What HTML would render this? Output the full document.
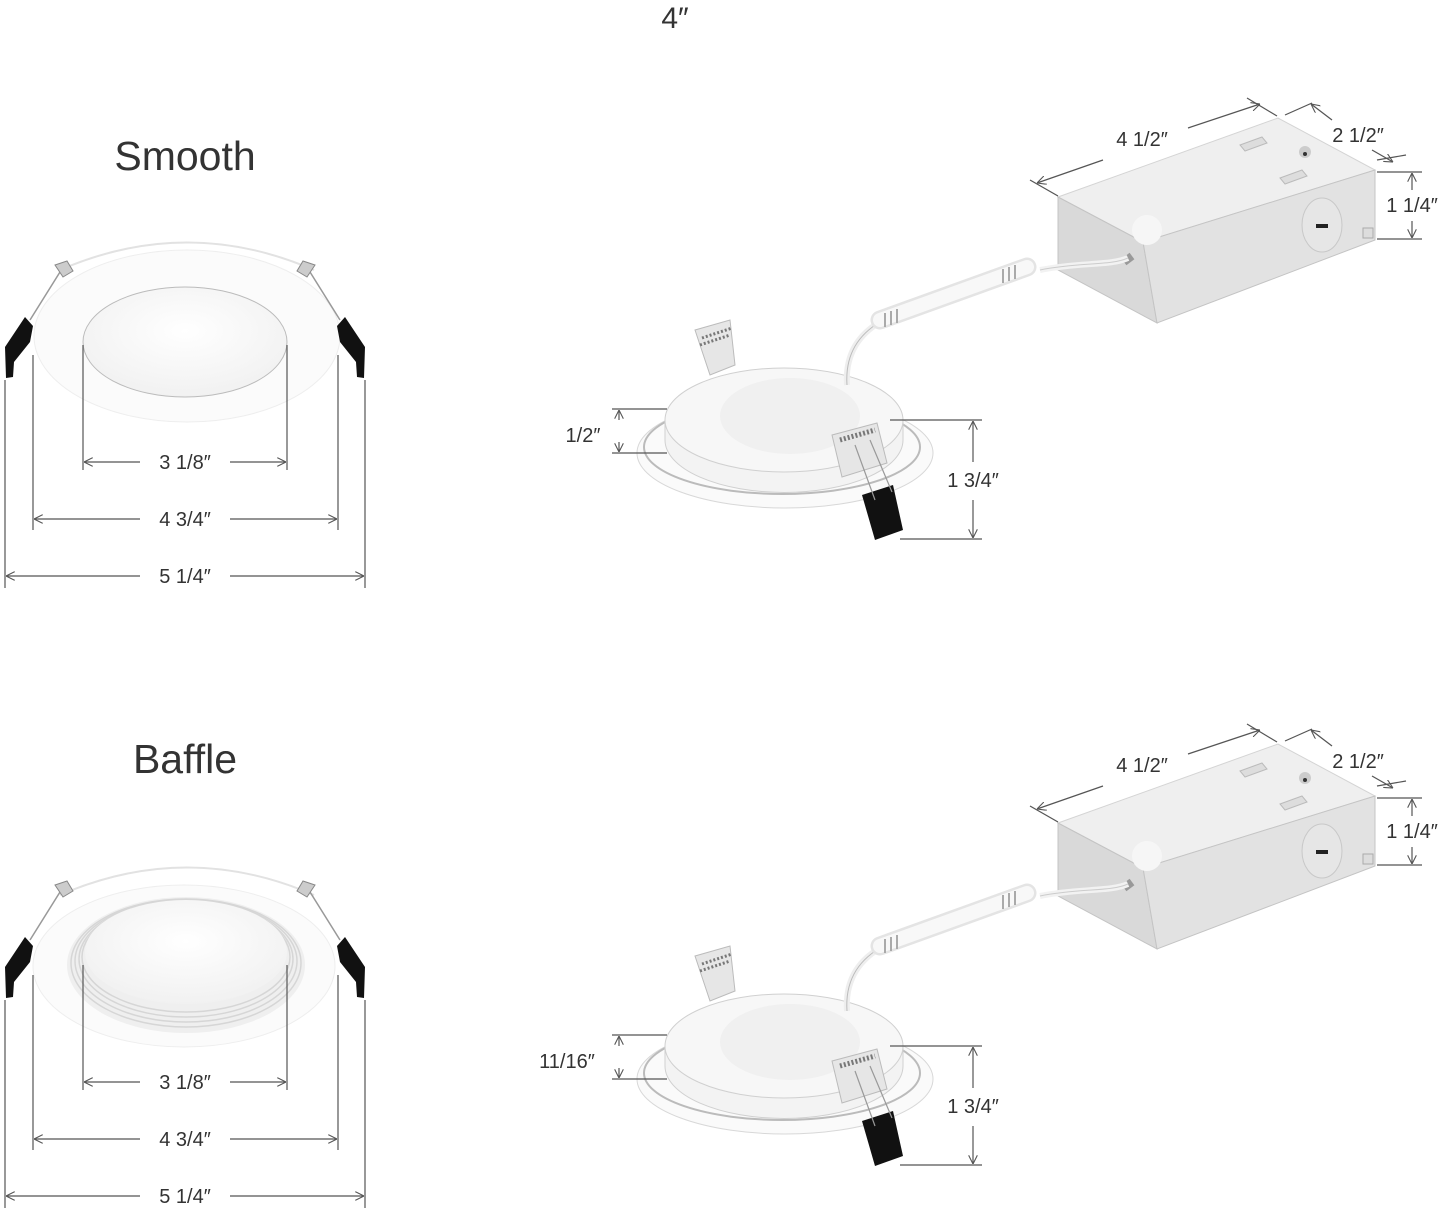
<!DOCTYPE html>
<html><head><meta charset="utf-8"><style>
html,body{margin:0;padding:0;background:#fff;}
svg{display:block;}
text{font-family:"Liberation Sans",sans-serif;fill:#333;}
.d{font-size:20px;text-anchor:middle;}
</style></head><body>
<svg width="1445" height="1208" viewBox="0 0 1445 1208" xmlns="http://www.w3.org/2000/svg">
<defs>
<marker id="a" viewBox="0 0 10 10" refX="10" refY="5" markerWidth="9" markerHeight="9" orient="auto-start-reverse" markerUnits="userSpaceOnUse"><path d="M0,0 L10,5 L0,10" fill="none" stroke="#555" stroke-width="1.2"/></marker>
<radialGradient id="lens" cx="50%" cy="40%" r="60%"><stop offset="0" stop-color="#fff"/><stop offset="1" stop-color="#f1f1f1"/></radialGradient>
<g id="clipL">
<path d="M25,317 L33,326 L30,342 L14,362 L13,377 L6,378 L5,347 Z" fill="#111"/>
<path d="M30,320 L60,272" stroke="#999" stroke-width="1.5"/>
<path d="M55,265 l12,-4 l6,10 l-10,6 z" fill="#ccc" stroke="#888"/>
</g>
<g id="box">
<path d="M1058,197 L1278,118 L1375,170 L1143,242 Z" fill="#efefef" stroke="#d4d4d4"/>
<path d="M1058,197 L1143,242 L1157,323 L1058,270 Z" fill="#d9d9d9" stroke="#c4c4c4"/>
<path d="M1143,242 L1375,170 L1375,240 L1157,323 Z" fill="#e2e2e2" stroke="#c4c4c4"/>
<path d="M1240,145 l22,-8 l5,6 l-22,8 z M1280,178 l22,-8 l5,6 l-22,8 z" fill="#ddd" stroke="#bbb"/>
<circle cx="1305" cy="152" r="6" fill="#ccc"/><circle cx="1305" cy="154" r="2" fill="#333"/>
<ellipse cx="1322" cy="225" rx="20" ry="27" fill="#e6e6e6" stroke="#c8c8c8"/>
<rect x="1316" y="224" width="12" height="4" fill="#222"/>
<circle cx="1147" cy="230" r="15" fill="#f6f6f6"/>
<rect x="1363" y="228" width="10" height="10" fill="#ddd" stroke="#aaa"/>
<path d="M1124,262 L1132,256" stroke="#999" stroke-width="8"/>
<path d="M1040,270 C1080,262 1110,266 1128,258" stroke="#f2f2f2" stroke-width="6" fill="none"/>
<path d="M1040,270 C1080,262 1110,266 1128,258" stroke="#ccc" stroke-width="1" fill="none"/>
<g stroke="#555" stroke-width="1.2" fill="none">
<line x1="1030" y1="180" x2="1058" y2="196"/><line x1="1247" y1="98" x2="1277" y2="116"/>
<line x1="1103" y1="160" x2="1037" y2="183" marker-end="url(#a)"/>
<line x1="1188" y1="128" x2="1260" y2="104" marker-end="url(#a)"/>
<line x1="1285" y1="115" x2="1312" y2="103"/>
<line x1="1332" y1="120" x2="1311" y2="104" marker-end="url(#a)"/>
<line x1="1372" y1="150" x2="1393" y2="162" marker-end="url(#a)"/>
<line x1="1377" y1="160" x2="1406" y2="155"/>
<line x1="1377" y1="172" x2="1422" y2="172"/><line x1="1377" y1="239" x2="1422" y2="239"/>
<line x1="1412" y1="190" x2="1412" y2="173" marker-end="url(#a)"/>
<line x1="1412" y1="221" x2="1412" y2="238" marker-end="url(#a)"/>
</g>
<text class="d" x="1142" y="146">4 1/2″</text>
<text class="d" x="1358" y="142">2 1/2″</text>
<text class="d" x="1412" y="212">1 1/4″</text>
</g>
<g id="fixR">
<ellipse cx="785" cy="453" rx="148" ry="55" fill="#fafafa" stroke="#d8d8d8"/>
<ellipse cx="782" cy="447" rx="138" ry="47" fill="none" stroke="#bbb" stroke-width="2"/>
<path d="M665,420 L665,440 A118,52 0 0 0 903,440 L903,420 Z" fill="#f3f3f3" stroke="#d0d0d0"/>
<ellipse cx="784" cy="420" rx="119" ry="52" fill="#f7f7f7" stroke="#d0d0d0"/>
<ellipse cx="790" cy="416" rx="70" ry="38" fill="#f0f0f0"/>
<path d="M695,330 l35,-10 l5,45 l-25,10 z" fill="#e6e6e6" stroke="#bbb"/>
<path d="M700,345 l30,-10 M702,338 l30,-10" stroke="#777" stroke-width="3" stroke-dasharray="2 2"/>
<path d="M832,435 l45,-12 l10,40 l-45,14 z" fill="#e6e6e6" stroke="#bbb"/>
<path d="M840,440 l35,-10" stroke="#777" stroke-width="5" stroke-dasharray="2 2"/>
<path d="M862,495 L893,485 L903,530 L875,540 Z" fill="#111"/>
<path d="M855,445 L875,500 M870,440 L892,492" stroke="#999" stroke-width="1.2"/>
<path d="M847,385 C845,355 858,335 880,322" stroke="#eee" stroke-width="6" fill="none"/>
<path d="M847,385 C845,355 858,335 880,322" stroke="#bbb" stroke-width="1" fill="none"/>
<path d="M880,320 L1027,267" stroke="#e4e4e4" stroke-width="19" stroke-linecap="round"/>
<path d="M880,320 L1027,267" stroke="#f8f8f8" stroke-width="14" stroke-linecap="round"/>
<path d="M885,313 l0,14 M891,311 l0,14 M897,309 l0,14 M1003,269 l0,14 M1009,267 l0,14 M1015,265 l0,14" stroke="#aaa" stroke-width="2"/>
<g stroke="#555" stroke-width="1.2" fill="none">
<line x1="612" y1="409" x2="667" y2="409"/><line x1="612" y1="453" x2="667" y2="453"/>
<line x1="619" y1="420" x2="619" y2="410" marker-end="url(#a)"/>
<line x1="619" y1="442" x2="619" y2="452" marker-end="url(#a)"/>
<line x1="890" y1="420" x2="982" y2="420"/><line x1="900" y1="539" x2="982" y2="539"/>
<line x1="973" y1="462" x2="973" y2="421" marker-end="url(#a)"/>
<line x1="973" y1="500" x2="973" y2="538" marker-end="url(#a)"/>
</g>
<text class="d" x="973" y="487">1 3/4″</text>
</g>
<g id="dimsL" stroke="#555" stroke-width="1.2" fill="none">
<line x1="5" y1="380" x2="5" y2="588"/><line x1="365" y1="380" x2="365" y2="588"/>
<line x1="33" y1="355" x2="33" y2="530"/><line x1="338" y1="355" x2="338" y2="530"/>
<line x1="83" y1="345" x2="83" y2="470"/><line x1="287" y1="345" x2="287" y2="470"/>
<line x1="140" y1="462" x2="84" y2="462" marker-end="url(#a)"/><line x1="230" y1="462" x2="286" y2="462" marker-end="url(#a)"/>
<line x1="140" y1="519" x2="34" y2="519" marker-end="url(#a)"/><line x1="230" y1="519" x2="337" y2="519" marker-end="url(#a)"/>
<line x1="140" y1="576" x2="6" y2="576" marker-end="url(#a)"/><line x1="230" y1="576" x2="364" y2="576" marker-end="url(#a)"/>
</g>
</defs>

<text x="675" y="28" style="font-size:30px;text-anchor:middle">4″</text>

<text x="185" y="170" style="font-size:41px;text-anchor:middle">Smooth</text>
<ellipse cx="187" cy="336" rx="153" ry="86" fill="#fbfbfb" stroke="#eee"/>
<path d="M60,270 Q187,215 314,270" stroke="#e2e2e2" stroke-width="2" fill="none"/>
<ellipse cx="185" cy="342" rx="102" ry="55" fill="url(#lens)" stroke="#bbb"/>
<use href="#clipL"/>
<use href="#clipL" transform="translate(370,0) scale(-1,1)"/>
<use href="#dimsL"/>
<text class="d" x="185" y="469">3 1/8″</text>
<text class="d" x="185" y="526">4 3/4″</text>
<text class="d" x="185" y="583">5 1/4″</text>
<use href="#box"/>
<use href="#fixR"/>
<text class="d" x="583" y="442">1/2″</text>

<text x="185" y="773" style="font-size:41px;text-anchor:middle">Baffle</text>
<g transform="translate(0,620)">
<ellipse cx="184" cy="346" rx="151" ry="81" fill="#fbfbfb" stroke="#eee"/>
<path d="M60,275 Q187,220 314,275" stroke="#e2e2e2" stroke-width="2" fill="none"/>
<ellipse cx="186" cy="345" rx="119" ry="68" fill="#efefef"/>
<g fill="none" stroke="#d6d6d6" stroke-width="1.5">
<ellipse cx="186" cy="343" rx="115" ry="64"/><ellipse cx="186" cy="341" rx="111" ry="61"/><ellipse cx="186" cy="339" rx="107" ry="58"/><ellipse cx="186" cy="337" rx="104" ry="55"/>
</g>
<ellipse cx="186" cy="332" rx="101" ry="52" fill="url(#lens)"/>
<use href="#clipL"/>
<use href="#clipL" transform="translate(370,0) scale(-1,1)"/>
<use href="#dimsL"/>
<text class="d" x="185" y="469">3 1/8″</text>
<text class="d" x="185" y="526">4 3/4″</text>
<text class="d" x="185" y="583">5 1/4″</text>
</g>
<g transform="translate(0,626)">
<use href="#box"/>
<use href="#fixR"/>
<text class="d" x="567" y="442">11/16″</text>
</g>
</svg>
</body></html>
